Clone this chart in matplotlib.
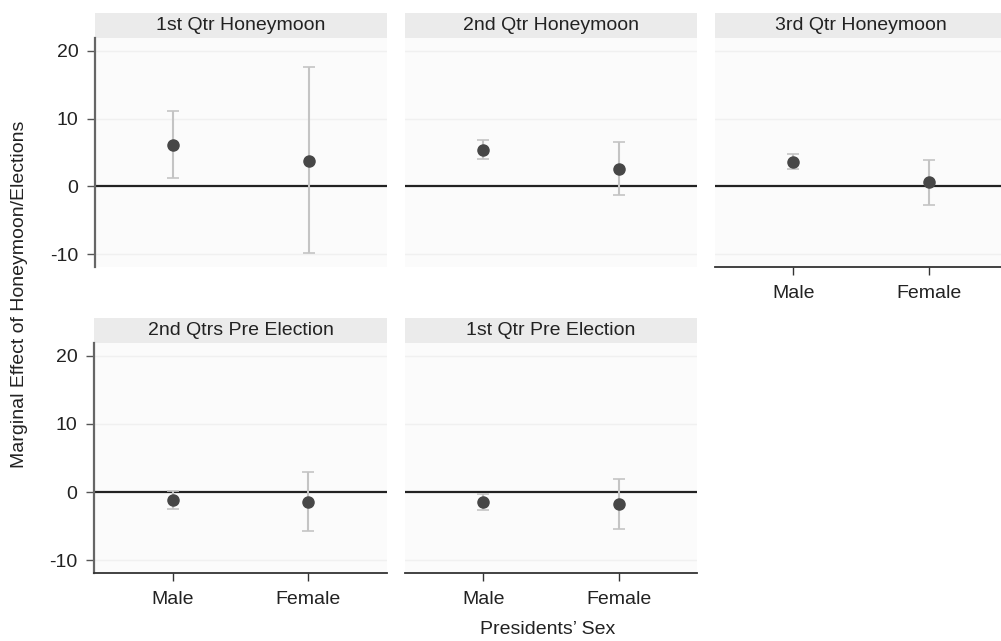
import matplotlib.pyplot as plt
from matplotlib.patches import Rectangle

plt.rcParams['font.family'] = ['Liberation Sans', 'DejaVu Sans']

panels = ['1st Qtr Honeymoon', '2nd Qtr Honeymoon', '3rd Qtr Honeymoon',
          '2nd Qtrs Pre Election', '1st Qtr Pre Election']
sexes = ['Male', 'Female']

# point estimates and 95% interval bounds per panel (Male, Female)
est = [[6.1, 3.8], [5.4, 2.6], [3.6, 0.6], [-1.2, -1.5], [-1.5, -1.8]]
lower = [[1.2, -9.9], [4.0, -1.3], [2.5, -2.8], [-2.5, -5.7], [-2.6, -5.5]]
upper = [[11.1, 17.6], [6.8, 6.6], [4.8, 3.9], [0.2, 2.9], [-0.3, 1.9]]

W, H = 1001, 641
fig = plt.figure(figsize=(W / 100, H / 100), dpi=100)


def px_axes(x0, y0, x1, y1):
    return fig.add_axes([x0 / W, 1 - y1 / H, (x1 - x0) / W, (y1 - y0) / H])


boxes = [(95, 38, 387, 267), (405, 38, 697, 267), (715, 38, 1007, 267),
         (94, 343, 387, 573), (405, 343, 697, 573)]
has_x = [False, False, True, True, True]
has_y = [True, False, False, True, False]

for i, (x0, y0, x1, y1) in enumerate(boxes):
    ax = px_axes(x0, y0, x1, y1)
    ax.set_facecolor('#fbfbfb')
    ax.set_xlim(-0.58, 1.58)
    ax.set_ylim(-11.9, 21.9)
    ax.set_yticks([-10, 0, 10, 20])
    for g in [-10, 10, 20]:
        ax.axhline(g, color='#f0f0f0', lw=1, zorder=0)
    ax.axhline(0, color='#222222', lw=1.6, zorder=1)

    xs = [0, 1]
    yerr = [[est[i][k] - lower[i][k] for k in range(2)],
            [upper[i][k] - est[i][k] for k in range(2)]]
    ax.errorbar(xs, est[i], yerr=yerr, fmt='none', ecolor='#c4c4c4',
                elinewidth=1.5, capsize=4, capthick=1.2, zorder=2)
    ax.plot(xs, est[i], 'o', color='#474747', markersize=8, zorder=3)

    for s in ['top', 'right']:
        ax.spines[s].set_visible(False)
    if has_y[i]:
        ax.spines['left'].set_color('#666666')
        ax.spines['left'].set_linewidth(1.6)
        ax.tick_params(axis='y', length=6, width=1, color='#555555',
                       labelsize=14, pad=6, labelcolor='#222222')
        ax.set_yticklabels(['-10', '0', '10', '20'])
    else:
        ax.spines['left'].set_visible(False)
        ax.tick_params(axis='y', length=0, labelleft=False)
    if has_x[i]:
        ax.spines['bottom'].set_color('#333333')
        ax.spines['bottom'].set_linewidth(1.3)
        ax.set_xticks(xs)
        ax.set_xticklabels(sexes)
        ax.tick_params(axis='x', length=6, width=1, color='#333333',
                       labelsize=14, pad=7, labelcolor='#222222')
    else:
        ax.spines['bottom'].set_visible(False)
        ax.set_xticks([])

    # facet header strip
    hh = 25 / (y1 - y0)
    ax.add_patch(Rectangle((0, 1), 1, hh, transform=ax.transAxes,
                           facecolor='#ebebeb', edgecolor='none', clip_on=False))
    ax.text(0.5, 1 + hh / 2, panels[i], transform=ax.transAxes, ha='center',
            va='center', fontsize=14, color='#222222')

fig.text(20 / W, 1 - 294 / H, 'Marginal Effect of Honeymoon/Elections',
         rotation=90, ha='center', va='center', fontsize=14, color='#222222')
fig.text(548 / W, 1 - 629 / H, 'Presidents\u2019 Sex', ha='center',
         va='center', fontsize=14, color='#222222')

fig.savefig('out.png', dpi=100)
